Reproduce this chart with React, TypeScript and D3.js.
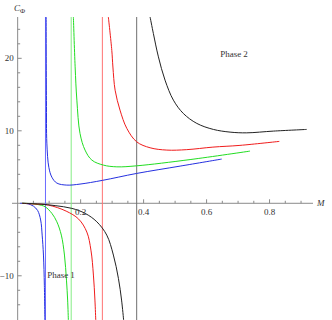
import React from "react";
import * as d3 from "d3";

// curve samples: [M, C_phi]
const blueUpper: [number, number][] = [
  [0.0905, 25.7], [0.0914, 14.2], [0.0927, 8.3], [0.099, 4.97], [0.1086, 3.6],
  [0.1244, 2.79], [0.156, 2.51], [0.198, 2.65], [0.269, 3.16], [0.378, 4.12],
  [0.516, 5.13], [0.648, 6.1],
];
const greenUpper: [number, number][] = [
  [0.177, 25.7], [0.1825, 18.83], [0.188, 14.23], [0.198, 9.64], [0.214, 7.34],
  [0.2356, 5.96], [0.272, 5.27], [0.315, 5.03], [0.378, 5.17], [0.5476, 6.03],
  [0.738, 7.2],
];
const redUpper: [number, number][] = [
  [0.288, 25.7], [0.299, 21.1], [0.3025, 18.8], [0.3095, 15.6], [0.325, 12.86],
  [0.3467, 10.33], [0.378, 8.48], [0.4206, 7.66], [0.4737, 7.34], [0.537, 7.4],
  [0.62, 7.75], [0.706, 7.99], [0.831, 8.54],
];
const blackUpper: [number, number][] = [
  [0.4206, 25.7], [0.431, 23.43], [0.447, 20.2], [0.468, 16.99], [0.4946, 14.23],
  [0.526, 12.4], [0.569, 11.02], [0.6216, 10.19], [0.6746, 9.82], [0.7276, 9.72],
  [0.812, 9.96], [0.918, 10.19],
];

const blueLower: [number, number][] = [
  [0.008, 0], [0.0184, -0.01], [0.0333, -0.08], [0.05, -0.39], [0.0635, -1.0],
  [0.073, -2.3], [0.0778, -4.39], [0.0819, -7.14], [0.0848, -11.3], [0.0863, -16.1],
];
const greenLower: [number, number][] = [
  [0.0143, 0], [0.0397, -0.04], [0.065, -0.18], [0.0873, -0.48], [0.1086, -1.39],
  [0.1244, -2.55], [0.1387, -4.39], [0.1486, -7.14], [0.155, -10.6], [0.1587, -13.35],
  [0.161, -16.1],
];
const redLower: [number, number][] = [
  [0.0143, 0], [0.0556, -0.11], [0.0978, -0.25], [0.154, -1.08], [0.1937, -2.18],
  [0.2197, -3.97], [0.2327, -6.46], [0.2406, -9.9], [0.2454, -13.35], [0.248, -16.1],
];
const blackLower: [number, number][] = [
  [0.0143, 0], [0.0714, -0.11], [0.119, -0.32], [0.172, -0.7], [0.2143, -1.39],
  [0.2514, -2.55], [0.283, -4.39], [0.304, -7.14], [0.32, -10.36], [0.33, -13.35],
  [0.3365, -16.1],
];

// vertical asymptotes (M)
const asymptotes = [0.0883, 0.17, 0.269, 0.378];
const asymptoteColors = ["#6a6aff", "#84ec84", "#ff7272", "#707070"];

const series = [
  { data: blueUpper, color: "#2530e0" },
  { data: greenUpper, color: "#22dd22" },
  { data: redUpper, color: "#f01c1c" },
  { data: blackUpper, color: "#222222" },
  { data: blueLower, color: "#2530e0" },
  { data: greenLower, color: "#22dd22" },
  { data: redLower, color: "#f01c1c" },
  { data: blackLower, color: "#222222" },
];

const xMajor = [0.2, 0.4, 0.6, 0.8];
const xMinor = [0.05, 0.1, 0.15, 0.25, 0.3, 0.35, 0.45, 0.5, 0.55, 0.65, 0.7, 0.75, 0.85, 0.9];
const yMajor = [-10, 10, 20];
const yMinor = [-14, -12, -8, -6, -4, -2, 2, 4, 6, 8, 12, 14, 16, 18, 22, 24];

export default function App() {
  const width = 332;
  const height = 320;
  const x = d3.scaleLinear().domain([-0.018, 0.938]).range([12, 313]);
  const y = d3.scaleLinear().domain([-16.1, 25.7]).range([320, 17]);
  const line = d3
    .line<[number, number]>()
    .x((d) => x(d[0]))
    .y((d) => y(d[1]))
    .curve(d3.curveCatmullRom.alpha(0.5));
  const axisColor = "#8a8a8a";
  const font = "'Liberation Serif', 'Times New Roman', serif";

  return (
    <svg
      width={width}
      height={height}
      style={{ position: "absolute", left: 0, top: 0, background: "#fff" }}
    >
      <defs>
        <clipPath id="plot">
          <rect x={x(-0.018)} y={y(25.7)} width={301} height={303} />
        </clipPath>
      </defs>

      {/* axes */}
      <line x1={x(-0.018)} x2={x(0.938)} y1={y(0)} y2={y(0)} stroke={axisColor} strokeWidth={1} />
      <line x1={x(0)} x2={x(0)} y1={y(25.7)} y2={height} stroke={axisColor} strokeWidth={1} />
      {xMajor.map((t) => (
        <line key={`xM${t}`} x1={x(t)} x2={x(t)} y1={y(0)} y2={y(0) - 4} stroke={axisColor} />
      ))}
      {xMinor.map((t) => (
        <line key={`xm${t}`} x1={x(t)} x2={x(t)} y1={y(0)} y2={y(0) - 2.5} stroke={axisColor} />
      ))}
      {yMajor.map((t) => (
        <line key={`yM${t}`} x1={x(0)} x2={x(0) + 4} y1={y(t)} y2={y(t)} stroke={axisColor} />
      ))}
      {yMinor.map((t) => (
        <line key={`ym${t}`} x1={x(0)} x2={x(0) + 2.5} y1={y(t)} y2={y(t)} stroke={axisColor} />
      ))}

      {/* asymptote lines */}
      {asymptotes.map((a, i) => (
        <line
          key={`as${i}`}
          x1={x(a)}
          x2={x(a)}
          y1={y(25.7)}
          y2={height}
          stroke={asymptoteColors[i]}
          strokeWidth={1}
        />
      ))}

      {/* curves */}
      <g clipPath="url(#plot)">
        {series.map((s, i) => (
          <path key={`s${i}`} d={line(s.data) || ""} fill="none" stroke={s.color} strokeWidth={1} />
        ))}
      </g>

      {/* tick labels */}
      <g fontFamily={font} fontSize={9} fill="#333">
        {xMajor.map((t) => (
          <text key={`xl${t}`} x={x(t)} y={y(0) + 12} textAnchor="middle">
            {t.toFixed(1)}
          </text>
        ))}
        {yMajor.map((t) => (
          <text key={`yl${t}`} x={x(0) - 4} y={y(t) + 3} textAnchor="end">
            {t < 0 ? `\u2212${Math.abs(t)}` : t}
          </text>
        ))}
        <text x={x(0.938) + 4} y={y(0) + 3} fontStyle="italic">M</text>
        <text x={14} y={11} fontStyle="italic">
          C<tspan fontSize={7} dy={2} fontStyle="normal">{"\u03A6"}</tspan>
        </text>
        <text x={61} y={278} textAnchor="middle">Phase 1</text>
        <text x={234} y={57} textAnchor="middle">Phase 2</text>
      </g>
    </svg>
  );
}
